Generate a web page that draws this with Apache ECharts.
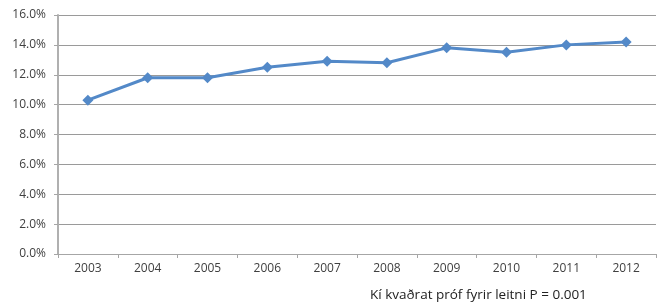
<!DOCTYPE html>
<html>
<head>
<meta charset="utf-8">
<script src="https://cdn.jsdelivr.net/npm/echarts@6/dist/echarts.min.js"></script>
<style>
    html, body { margin: 0; padding: 0; background: #fff; }
    #chart { width: 657px; height: 306px; }
</style>
</head>
<body>
<div id="chart"></div>
<script>
// ár og hlutfall
const years = ['2003', '2004', '2005', '2006', '2007', '2008', '2009', '2010', '2011', '2012']
const rates = [10.3, 11.8, 11.8, 12.5, 12.9, 12.8, 13.8, 13.5, 14.0, 14.2]
const note = 'Kí kvaðrat próf fyrir leitni P = 0.001'

const chart = echarts.init(document.getElementById('chart'))

const option = {
    animation: false,
    grid: { left: 58, right: 1, top: 15, bottom: 52 },
    xAxis: {
        type: 'category',
        data: years,
        boundaryGap: true,
        axisLine: { lineStyle: { color: '#a6a6a6', width: 1 } },
        axisTick: { show: true, length: 4, lineStyle: { color: '#a6a6a6' } },
        axisLabel: { color: '#404040', fontFamily: 'Open Sans', fontSize: 12, margin: 9 }
    },
    yAxis: {
        type: 'value',
        min: 0,
        max: 16,
        interval: 2,
        axisLine: { show: true, lineStyle: { color: '#b0b0b0', width: 2 } },
        axisTick: { show: true, length: 4, lineStyle: { color: '#a6a6a6' } },
        axisLabel: {
            color: '#404040', fontFamily: 'Open Sans', fontSize: 12, margin: 12,
            formatter: v => v.toFixed(1) + '%'
        },
        splitLine: { lineStyle: { color: '#9a9a9a', width: 1 } }
    },
    series: [{
        type: 'line',
        data: rates,
        symbol: 'diamond',
        symbolSize: 11,
        lineStyle: { color: '#5389c8', width: 3 },
        itemStyle: { color: '#5389c8' }
    }],
    graphic: [{
        type: 'text',
        left: 370,
        top: 288,
        style: { text: note, fill: '#222', font: '13.5px "Open Sans"' }
    }]
}

chart.setOption(option)
</script>
</body>
</html>
